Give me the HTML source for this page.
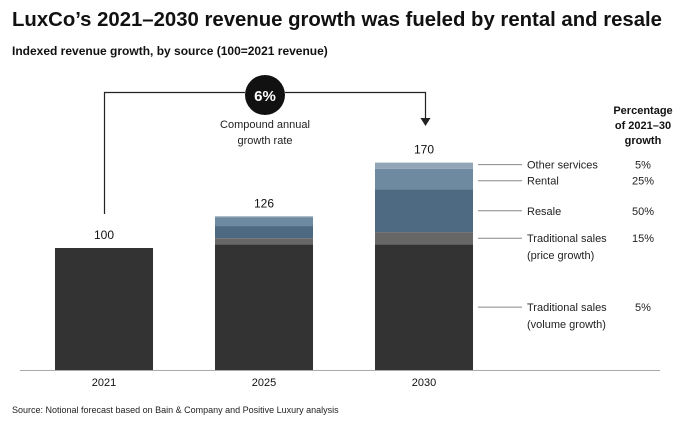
<!DOCTYPE html>
<html><head><meta charset="utf-8"><style>
body{margin:0;background:#fff;font-family:"Liberation Sans",sans-serif;}
svg{display:block}
</style></head><body>
<svg width="678" height="425">
<text x="12" y="26" font-size="20" font-weight="bold" fill="#111" textLength="650" lengthAdjust="spacingAndGlyphs">LuxCo’s 2021–2030 revenue growth was fueled by rental and resale</text>
<text x="12" y="55" font-size="12" font-weight="bold" fill="#111">Indexed revenue growth, by source (100=2021 revenue)</text>
<g id="bars"></g>
<line x1="20" y1="370.5" x2="660" y2="370.5" stroke="#aaa"/>
<path d="M104.5 214 V92.5 H245 M285 92.5 H425.5 V119" fill="none" stroke="#222" stroke-width="1.2"/>
<path d="M420.5 118 L430.5 118 L425.5 126 Z" fill="#222"/>
<circle cx="265" cy="95" r="20" fill="#111"/>
<text x="265" y="101" font-size="15" font-weight="bold" fill="#fff" text-anchor="middle">6%</text>
<text x="265" y="128" font-size="11" fill="#222" text-anchor="middle">Compound annual</text>
<text x="265" y="144" font-size="11" fill="#222" text-anchor="middle">growth rate</text>
<g font-size="11" font-weight="bold" fill="#111" text-anchor="middle">
<text x="643" y="114">Percentage</text><text x="643" y="129">of 2021–30</text><text x="643" y="144">growth</text></g>
<g id="legend"></g>
<text x="12" y="413" font-size="9" fill="#222">Source: Notional forecast based on Bain &amp; Company and Positive Luxury analysis</text>
</svg>
<script>
const years=["2021","2025","2030"];
const totals=[100,126,170];
const volume=[100,103,103];
const price=[0,5,10];
const resale=[0,10,35];
const rental=[0,7,17];
const other=[0,1,5];
const segNames=["Traditional sales (volume growth)","Traditional sales (price growth)","Resale","Rental","Other services"];
const segPct=["5%","15%","50%","25%","5%"];
const series=[volume,price,resale,rental,other];
const colors=["#333333","#676767","#4e6a82","#6e8aa1","#91a5b7"];
const base=370,k=1.22;
const y=v=>base-v*k;
const xc=i=>104+i*160;
const NS="http://www.w3.org/2000/svg";
const g=document.getElementById('bars');
function mk(t,a){const e=document.createElementNS(NS,t);for(const q in a)e.setAttribute(q,a[q]);return e;}
years.forEach((yr,i)=>{
 let acc=0;
 series.forEach((s,j)=>{
  const v=s[i]; if(v<=0)return;
  const r=mk('rect',{x:xc(i)-49,y:y(acc+v),width:98,height:v*k,fill:colors[j]});
  
  
  g.appendChild(r); acc+=v;
 });
 const t=mk('text',{x:xc(i),y:y(totals[i])-9,'font-size':12,'text-anchor':'middle',fill:'#111'});
 t.textContent=totals[i];
 
 
 g.appendChild(t);
 const l=mk('text',{x:xc(i),y:386,'font-size':11,'text-anchor':'middle',fill:'#111'});
 l.textContent=yr;
 
 
 g.appendChild(l);
});
const lg=document.getElementById('legend');
let acc=0;const last=years.length-1;
series.forEach((s,j)=>{
 const mid=y(acc+s[last]/2); acc+=s[last];
 const yy=j===4?y(acc)+2:(j===3?y(acc)+12:mid);
 const ln=mk('line',{x1:478,y1:yy,x2:522,y2:yy,stroke:'#888'});
 
 
 lg.appendChild(ln);
 const parts=segNames[j].split(' (');
 const t=mk('text',{x:527,y:yy+4,'font-size':11,fill:'#222'});
 t.textContent=parts[0];
 
 
 lg.appendChild(t);
 if(parts[1]){const t2=mk('text',{x:527,y:yy+21,'font-size':11,fill:'#222'});t2.textContent='('+parts[1];
 
 
 lg.appendChild(t2);}
 const p=mk('text',{x:643,y:yy+4,'font-size':11,fill:'#222','text-anchor':'middle'});
 p.textContent=segPct[j];
 
 
 lg.appendChild(p);
});
</script>
</body></html>
